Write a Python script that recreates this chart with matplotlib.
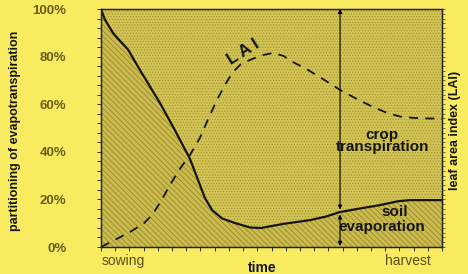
import numpy as np
import matplotlib.pyplot as plt

plt.rcParams['font.family'] = ['Liberation Sans', 'DejaVu Sans']
plt.rcParams['hatch.linewidth'] = 0.5

# share of soil evaporation (solid line), in % of evapotranspiration
soil_x = [0, 0.01, 0.02, 0.035, 0.05, 0.079, 0.12, 0.173, 0.217, 0.261, 0.285, 0.305,
          0.326, 0.355, 0.39, 0.437, 0.47, 0.534, 0.613, 0.66, 0.701, 0.76, 0.818,
          0.87, 0.906, 1.0]
soil_y = [100, 96, 93.5, 90, 87.5, 83, 73, 60.5, 49, 37, 28, 20.5,
          15.5, 12, 10.2, 8.2, 8, 9.7, 11.3, 12.8, 14.7, 16.2, 17.6,
          19.2, 19.7, 19.7]

# leaf area index (dashed line), relative scale
lai_x = [0, 0.041, 0.085, 0.126, 0.15, 0.175, 0.202, 0.232, 0.261, 0.290, 0.315, 0.340,
         0.365, 0.387, 0.41, 0.437, 0.47, 0.504, 0.535, 0.563, 0.607, 0.655, 0.701,
         0.75, 0.798, 0.84, 0.877, 0.92, 0.96, 1.0]
lai_y = [0, 3, 6.3, 10, 13.5, 19, 26, 33, 38.7, 45.8, 54, 61.8,
         68.5, 73.5, 76.8, 78.6, 80.5, 81.5, 80.3, 77.7, 74.4, 70.2, 66,
         62.2, 58.8, 56.3, 54.8, 54.2, 54, 54]

y_ticks = [0, 20, 40, 60, 80, 100]
y_ticklabels = ['0%', '20%', '40%', '60%', '80%', '100%']
arrow_x = 0.701

bg = '#F8EB5F'
face = '#D3C453'
tick_col = '#6A5C1C'
ink = '#151515'

fig = plt.figure(figsize=(4.68, 2.74), dpi=100, facecolor=bg)
ax = fig.add_axes([101 / 468, 1 - 247 / 274, 341 / 468, 238 / 274])
ax.set_facecolor(face)

xs = np.linspace(0, 1, 400)
soil_fill = np.interp(xs, soil_x, soil_y)

ax.fill_between(xs, 0, soil_fill, facecolor='#CBBB4C', edgecolor='#8C7F2A',
                hatch='\\\\\\\\\\\\', linewidth=0, zorder=1)
ax.fill_between(xs, soil_fill, 100, facecolor=face, edgecolor='#9E9236',
                hatch='......', linewidth=0, zorder=1)

ax.plot(soil_x, soil_y, color=ink, lw=1.6, zorder=3)
ax.plot(lai_x, lai_y, color=ink, lw=1.3, ls=(0, (5, 4)), zorder=3)

# arrows for the two components
soil_at_arrow = np.interp(arrow_x, soil_x, soil_y)
ax.annotate('', xy=(arrow_x, 100), xytext=(arrow_x, soil_at_arrow + 1),
            arrowprops=dict(arrowstyle='<|-|>', color='black', lw=0.8,
                            mutation_scale=6, shrinkA=0, shrinkB=0), zorder=4)
ax.annotate('', xy=(arrow_x, soil_at_arrow - 1), xytext=(arrow_x, 0.5),
            arrowprops=dict(arrowstyle='<|-|>', color='black', lw=0.8,
                            mutation_scale=6, shrinkA=0, shrinkB=0), zorder=4)

ax.text(0.416, 82, 'L A I', rotation=32, fontsize=12, fontweight='bold',
        color=ink, ha='center', va='center', zorder=5)
ax.text(0.825, 44.5, 'crop\ntranspiration', fontsize=11, fontweight='bold',
        color=ink, ha='center', va='center', linespacing=0.8, zorder=5)
ax.text(0.86, 14.8, 'soil', fontsize=11, fontweight='bold',
        color=ink, ha='center', va='center', zorder=5)
ax.text(0.822, 8.2, 'evaporation', fontsize=11, fontweight='bold',
        color=ink, ha='center', va='center', zorder=5)

ax.set_xlim(0, 1)
ax.set_ylim(0, 100)
ax.set_xticks(np.linspace(0, 1, 25))
ax.set_xticklabels([])
ax.set_yticks(y_ticks)
ax.set_yticklabels(y_ticklabels, fontsize=9.5, fontweight='bold', color=tick_col)
ax.set_yticks(np.arange(0, 101, 4), minor=True)
ax.tick_params(axis='x', direction='out', length=3, width=0.7, color='#333333')
ax.tick_params(axis='y', which='both', direction='out', length=3, width=0.7,
               color='#333333', pad=22)

ax2 = ax.twinx()
ax2.set_ylim(0, 100)
ax2.set_yticks(np.arange(0, 101, 2))
ax2.set_yticklabels([])
ax2.tick_params(axis='y', direction='out', length=2.5, width=0.6, color='#555533')

for a in (ax, ax2):
    for s in a.spines.values():
        s.set_color('#222222')
        s.set_linewidth(0.9)

ax.text(0.003, -0.03, 'sowing', transform=ax.transAxes, fontsize=10,
        color='#5A4E1C', ha='left', va='top')
ax.text(0.967, -0.03, 'harvest', transform=ax.transAxes, fontsize=10,
        color='#5A4E1C', ha='right', va='top')
fig.text(262 / 468, 1 - 268 / 274, 'time', fontsize=10, fontweight='bold',
         color=ink, ha='center', va='center')
fig.text(15 / 468, 1 - 131 / 274, 'partitioning of evapotranspiration', rotation=90,
         fontsize=9, fontweight='bold', color=ink, ha='center', va='center')
fig.text(455 / 468, 1 - 130 / 274, 'leaf area index (LAI)', rotation=90,
         fontsize=9, fontweight='bold', color=ink, ha='center', va='center')

fig.savefig('out.png', dpi=100, facecolor=bg)
